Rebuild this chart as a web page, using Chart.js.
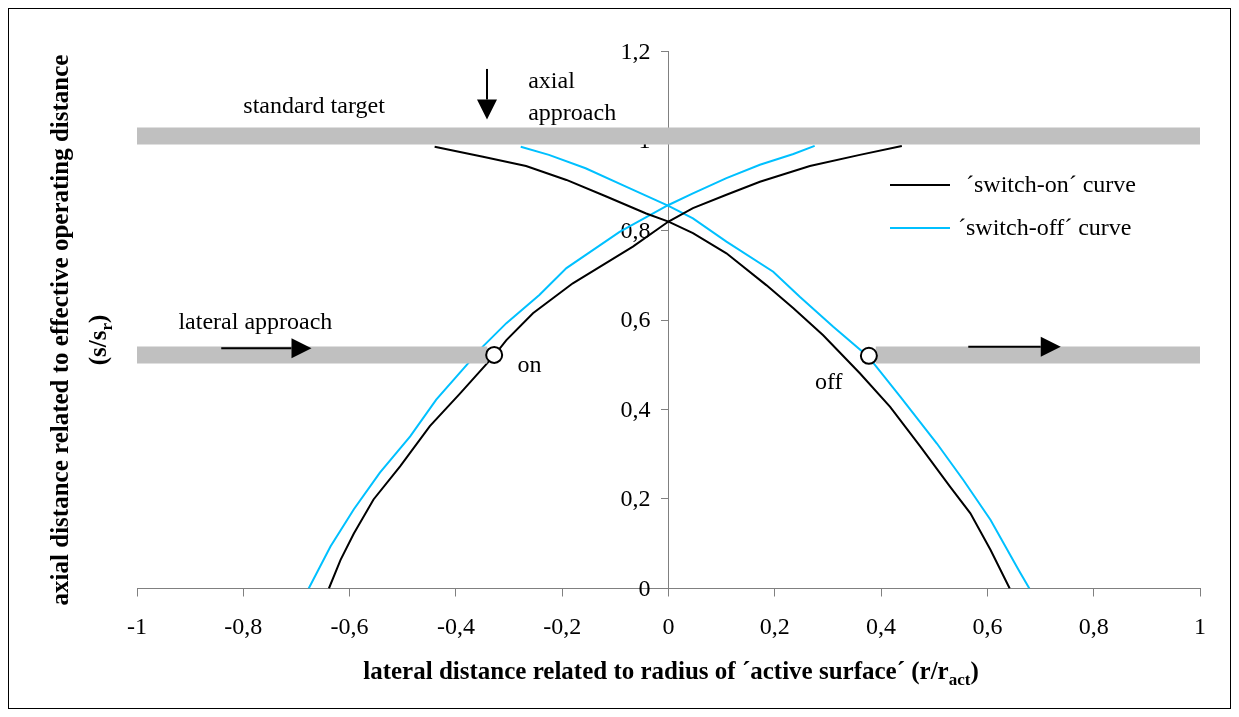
<!DOCTYPE html>
<html>
<head>
<meta charset="utf-8">
<script src="https://cdn.jsdelivr.net/npm/chart.js@4/dist/chart.umd.min.js"></script>
<style>
  html, body { margin: 0; padding: 0; background: #fff; }
  canvas { display: block; }
</style>
</head>
<body>
<canvas id="chart" width="1239" height="717"></canvas>
<script>
// 'switch-on' curve, rising branch and falling branch
const onRiseX = [-0.639, -0.617, -0.592, -0.555, -0.505, -0.449, -0.392, -0.327, -0.305, -0.255, -0.180, -0.067, 0, 0.046, 0.109, 0.172, 0.266, 0.360, 0.439]
const onRiseY = [0, 0.064, 0.123, 0.199, 0.273, 0.363, 0.436, 0.522, 0.555, 0.615, 0.682, 0.764, 0.820, 0.850, 0.880, 0.909, 0.944, 0.969, 0.989]
const onFallX = [-0.440, -0.349, -0.268, -0.192, -0.117, -0.042, 0, 0.046, 0.109, 0.184, 0.235, 0.291, 0.360, 0.417, 0.474, 0.530, 0.568, 0.606, 0.642]
const onFallY = [0.987, 0.965, 0.944, 0.913, 0.876, 0.838, 0.820, 0.794, 0.749, 0.678, 0.626, 0.566, 0.481, 0.406, 0.317, 0.227, 0.168, 0.086, 0]

// 'switch-off' curve
const offRiseX = [-0.677, -0.636, -0.592, -0.543, -0.486, -0.437, -0.349, -0.305, -0.243, -0.192, -0.092, 0, 0.046, 0.109, 0.172, 0.235, 0.275]
const offRiseY = [0, 0.094, 0.177, 0.259, 0.340, 0.422, 0.541, 0.593, 0.656, 0.716, 0.797, 0.857, 0.883, 0.917, 0.947, 0.971, 0.989]
const offFallX = [-0.278, -0.225, -0.156, -0.080, 0, 0.046, 0.109, 0.197, 0.247, 0.310, 0.376, 0.436, 0.505, 0.555, 0.606, 0.659, 0.679]
const offFallY = [0.987, 0.969, 0.939, 0.898, 0.855, 0.827, 0.775, 0.708, 0.652, 0.585, 0.518, 0.429, 0.324, 0.242, 0.153, 0.041, 0]

// grey target paths
const targetX = [-1, 1]
const targetY = [1.011, 1.011]
const lateralLeftX = [-1, -0.341]
const lateralRightX = [0.39, 1]
const lateralY = [0.522, 0.522]

// switching points
const switchX = [-0.328, 0.377]
const switchY = [0.522, 0.520]

// ticks
const xTicks = [-1, -0.8, -0.6, -0.4, -0.2, 0, 0.2, 0.4, 0.6, 0.8, 1]
const yTicks = [0, 0.2, 0.4, 0.6, 0.8, 1, 1.2]

const serif = '"Times New Roman", "Liberation Serif", serif'
const cyan = '#00C0FF'
const grey = '#C0C0C0'

const pts = (xs, ys) => xs.map((x, i) => ({ x, y: ys[i] }))
const fmt = v => String(Math.round(v * 10) / 10).replace('.', ',')

const arrows = [
  { from: [-0.3415, 1.161], to: [-0.3415, 1.048] },
  { from: [-0.8415, 0.537], to: [-0.6717, 0.537] },
  { from: [0.564, 0.540], to: [0.738, 0.540] },
]

const notes = [
  { text: 'standard target', at: [-0.8, 1.0626] },
  { text: 'axial', at: [-0.264, 1.118] },
  { text: 'approach', at: [-0.264, 1.047] },
  { text: 'lateral approach', at: [-0.922, 0.581] },
  { text: 'on', at: [-0.284, 0.4845] },
  { text: 'off', at: [0.2755, 0.445] },
]

const decorations = {
  id: 'decorations',
  beforeDraw(chart) {
    const ctx = chart.ctx
    ctx.save()
    ctx.fillStyle = '#fff'
    ctx.fillRect(0, 0, chart.width, chart.height)
    ctx.strokeStyle = '#000'
    ctx.lineWidth = 1
    ctx.strokeRect(8.5, 8.5, 1222, 700)
    ctx.restore()
  },
  beforeDatasetsDraw(chart) {
    // y tick labels sit left of the centred axis
    const { ctx, scales: { x, y } } = chart
    ctx.save()
    ctx.font = '24px ' + serif
    ctx.fillStyle = '#000'
    ctx.textAlign = 'right'
    ctx.textBaseline = 'middle'
    const ax = x.getPixelForValue(0)
    yTicks.forEach(v => ctx.fillText(fmt(v), ax - 18, y.getPixelForValue(v) + 1))
    ctx.restore()
  },
  afterDatasetsDraw(chart) {
    const { ctx, scales: { x, y } } = chart
    ctx.save()
    ctx.strokeStyle = '#000'
    ctx.fillStyle = '#000'
    ctx.lineWidth = 2
    arrows.forEach(a => {
      const x1 = x.getPixelForValue(a.from[0]), y1 = y.getPixelForValue(a.from[1])
      const x2 = x.getPixelForValue(a.to[0]), y2 = y.getPixelForValue(a.to[1])
      const ang = Math.atan2(y2 - y1, x2 - x1)
      const c = Math.cos(ang), s = Math.sin(ang)
      const head = 20, half = 10
      ctx.beginPath()
      ctx.moveTo(x1, y1)
      ctx.lineTo(x2 - head * c, y2 - head * s)
      ctx.stroke()
      ctx.beginPath()
      ctx.moveTo(x2, y2)
      ctx.lineTo(x2 - head * c - half * s, y2 - head * s + half * c)
      ctx.lineTo(x2 - head * c + half * s, y2 - head * s - half * c)
      ctx.closePath()
      ctx.fill()
    })

    ctx.font = '24px ' + serif
    ctx.textAlign = 'left'
    ctx.textBaseline = 'alphabetic'
    notes.forEach(n => {
      ctx.fillText(n.text, x.getPixelForValue(n.at[0]), y.getPixelForValue(n.at[1]))
    })
    ctx.restore()
  },
  afterDraw(chart) {
    const ctx = chart.ctx
    ctx.save()
    ctx.fillStyle = '#000'

    // legend
    ctx.lineWidth = 2
    ctx.strokeStyle = '#000'
    ctx.beginPath(); ctx.moveTo(890, 185); ctx.lineTo(950, 185); ctx.stroke()
    ctx.strokeStyle = cyan
    ctx.beginPath(); ctx.moveTo(890, 228); ctx.lineTo(950, 228); ctx.stroke()
    ctx.font = '24px ' + serif
    ctx.textBaseline = 'alphabetic'
    ctx.fillText('´switch-on´ curve', 966, 192)
    ctx.fillText('´switch-off´ curve', 958, 235)

    // x axis title with subscript
    const big = 'bold 25px ' + serif, small = 'bold 17px ' + serif
    const a = 'lateral distance related to radius of ´active surface´ (r/r', b = 'act', c = ')'
    ctx.font = big; const wa = ctx.measureText(a).width, wc = ctx.measureText(c).width
    ctx.font = small; const wb = ctx.measureText(b).width
    let sx = 671 - (wa + wb + wc) / 2
    ctx.font = big; ctx.fillText(a, sx, 679)
    ctx.font = small; ctx.fillText(b, sx + wa, 685)
    ctx.font = big; ctx.fillText(c, sx + wa + wb, 679)

    // y axis title, rotated
    ctx.translate(68, 330)
    ctx.rotate(-Math.PI / 2)
    ctx.font = big
    ctx.textAlign = 'center'
    ctx.fillText('axial distance related to effective operating distance', 0, 0)
    ctx.textAlign = 'left'
    const p = '(s/s', q = 'r', r = ')'
    const wp = ctx.measureText(p).width, wr = ctx.measureText(r).width
    ctx.font = small; const wq = ctx.measureText(q).width
    sx = -10 - (wp + wq + wr) / 2
    ctx.font = big; ctx.fillText(p, sx, 38)
    ctx.font = small; ctx.fillText(q, sx + wp, 44)
    ctx.font = big; ctx.fillText(r, sx + wp + wq, 38)
    ctx.restore()
  }
}

const curve = (data, color) => ({
  data, showLine: true, borderColor: color, borderWidth: 2,
  pointRadius: 0, fill: false, tension: 0
})
const band = data => ({
  data, showLine: true, borderColor: grey, borderWidth: 17, borderCapStyle: 'butt',
  pointRadius: 0, fill: false
})

new Chart(document.getElementById('chart'), {
  type: 'scatter',
  data: {
    datasets: [
      { data: pts(switchX, switchY), pointRadius: 8, pointHoverRadius: 8, pointBackgroundColor: '#fff', pointBorderColor: '#000', pointBorderWidth: 2 },
      band(pts(targetX, targetY)),
      band(pts(lateralLeftX, lateralY)),
      band(pts(lateralRightX, lateralY)),
      curve(pts(onRiseX, onRiseY), '#000'),
      curve(pts(onFallX, onFallY), '#000'),
      curve(pts(offRiseX, offRiseY), cyan),
      curve(pts(offFallX, offFallY), cyan),
    ]
  },
  options: {
    responsive: false,
    animation: false,
    layout: { padding: { left: 137, right: 39, top: 51.5, bottom: 68.5 } },
    plugins: { legend: { display: false }, tooltip: { enabled: false } },
    scales: {
      x: {
        type: 'linear', min: -1, max: 1,
        afterFit: s => { s.height = 60 },
        afterBuildTicks: s => { s.ticks = xTicks.map(v => ({ value: v })) },
        ticks: { callback: fmt, color: '#000', font: { family: serif, size: 24 }, padding: 17, maxRotation: 0, autoSkip: false },
        grid: { drawOnChartArea: false, drawTicks: true, tickLength: 8, tickColor: '#808080' },
        border: { color: '#808080', width: 1 }
      },
      y: {
        type: 'linear', min: 0, max: 1.2,
        position: { x: 0 },
        afterBuildTicks: s => { s.ticks = yTicks.map(v => ({ value: v })) },
        ticks: { display: false },
        grid: { drawOnChartArea: false, drawTicks: true, tickLength: 7, tickColor: '#808080' },
        border: { color: '#808080', width: 1 }
      }
    }
  },
  plugins: [decorations]
})
</script>
</body>
</html>
